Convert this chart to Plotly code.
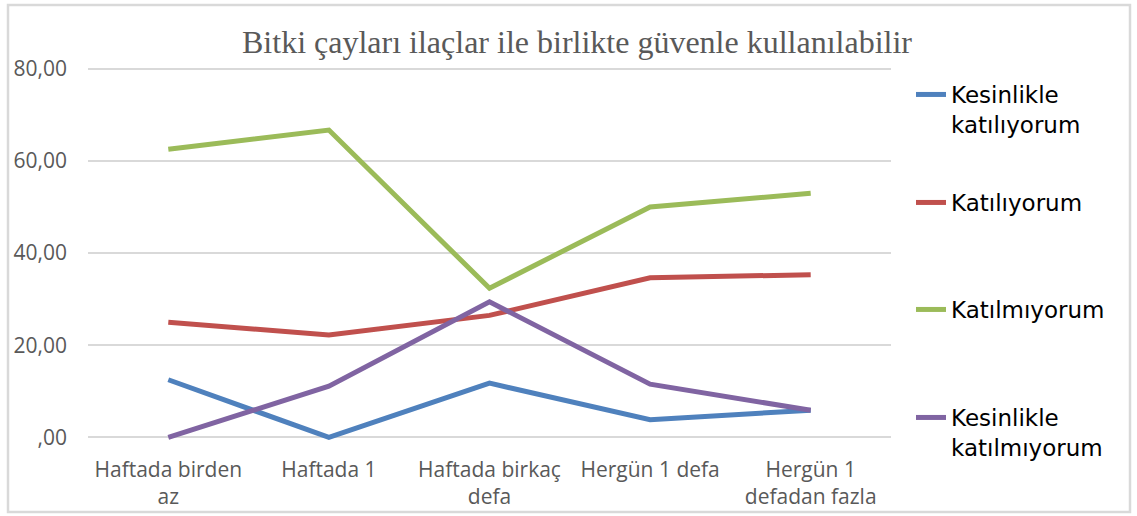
import plotly.graph_objects as go

categories = ["Haftada birden<br>az", "Haftada 1", "Haftada birkaç<br>defa", "Hergün 1 defa", "Hergün 1<br>defadan fazla"]
series_names = ["Kesinlikle<br>katılıyorum", "Katılıyorum", "Katılmıyorum", "Kesinlikle<br>katılmıyorum"]
kesinlikle_katiliyorum = [12.50, 0.00, 11.76, 3.85, 5.88]
katiliyorum = [25.00, 22.22, 26.47, 34.62, 35.29]
katilmiyorum = [62.50, 66.67, 32.35, 50.00, 52.94]
kesinlikle_katilmiyorum = [0.00, 11.11, 29.41, 11.54, 5.88]
y_tick_values = [0, 20, 40, 60, 80]
y_tick_labels = [",00", "20,00", "40,00", "60,00", "80,00"]
title_text = "Bitki çayları ilaçlar ile birlikte güvenle kullanılabilir"

colors = ["#4F81BD", "#C0504D", "#9BBB59", "#8064A2"]
series_values = [kesinlikle_katiliyorum, katiliyorum, katilmiyorum, kesinlikle_katilmiyorum]
legend_ids = ["legend", "legend2", "legend3", "legend4"]
legend_tops = [73, 181, 288, 396]

W, H = 1137, 516
ML, MR, MT, MB = 88, 246, 64, 74

fig = go.Figure()
for i, (name, vals) in enumerate(zip(series_names, series_values)):
    fig.add_trace(go.Scatter(
        x=categories, y=vals, name=name, mode="lines",
        line=dict(color=colors[i], width=5),
        legend=legend_ids[i],
    ))

pw = W - ML - MR
ph = H - MT - MB
def px_x(p):
    return (p - ML) / pw
def px_y(p):
    return (H - MB - p) / ph

legend_style = dict(xref="container", yref="container", xanchor="left", yanchor="top",
                    valign="top", font=dict(family="DejaVu Sans", size=23, color="#000000"),
                    bgcolor="rgba(0,0,0,0)")
legend_layout = {}
for lid, top in zip(legend_ids, legend_tops):
    legend_layout[lid] = dict(x=911 / W, y=1 - top / H, **legend_style)

fig.update_layout(
    width=W, height=H,
    margin=dict(l=ML, r=MR, t=MT, b=MB, autoexpand=False),
    paper_bgcolor="white", plot_bgcolor="white",
    title=dict(text=title_text, x=577 / W, xanchor="center", xref="container",
               y=1 - 42 / H, yanchor="middle", yref="container",
               font=dict(family="Liberation Serif", size=32, color="#595959")),
    xaxis=dict(type="category", range=[-0.5, 4.5], showgrid=False, zeroline=False,
               showline=False, ticks="", tickfont=dict(family="Open Sans", size=21, color="#595959"),
               ticklabelstandoff=13, automargin=False),
    yaxis=dict(range=[-1, 81], tickvals=y_tick_values, ticktext=y_tick_labels,
               showgrid=True, gridcolor="#D9D9D9", gridwidth=2, zeroline=False,
               showline=False, ticks="", tickfont=dict(family="Open Sans", size=21, color="#595959"),
               ticklabelstandoff=20, automargin=False),
    showlegend=True,
    shapes=[dict(type="rect", xref="paper", yref="paper",
                 x0=px_x(8), x1=px_x(1130), y0=px_y(512), y1=px_y(5),
                 line=dict(color="#D9D9D9", width=2.5), fillcolor="rgba(0,0,0,0)",
                 layer="below")],
    **legend_layout,
)

fig.write_html("out.html", config={"displayModeBar": False},
               post_script="document.body.style.margin='0';")
